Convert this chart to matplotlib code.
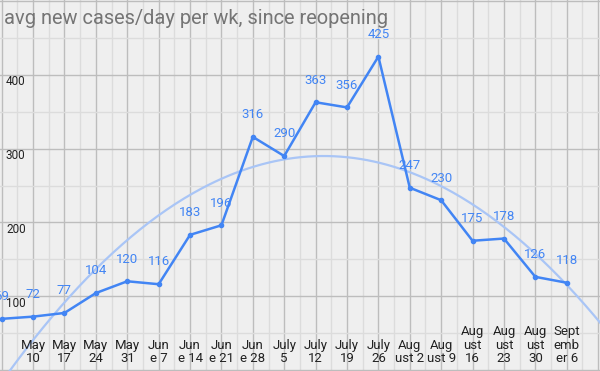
"""avg new cases/day per wk since reopening -- line chart with quadratic trendline."""

import matplotlib
matplotlib.use("Agg")
import matplotlib.pyplot as plt
import numpy as np

# data
WEEK_LABELS = ["May 3", "May\n10", "May\n17", "May\n24", "May\n31", "Jun\ne 7",
               "Jun\ne 14", "Jun\ne 21", "Jun\ne 28", "July\n5", "July\n12",
               "July\n19", "July\n26", "Aug\nust 2", "Aug\nust 9", "Aug\nust\n16",
               "Aug\nust\n23", "Aug\nust\n30", "Sept\nemb\ner 6"]
CASES = [69, 72, 77, 104, 120, 116, 183, 196, 316, 290, 363, 356, 425,
         247, 230, 175, 178, 126, 118]
Y_TICKS = [100, 200, 300, 400]

# style
BG = "#efefef"
LINE = "#4285f4"
TREND = "#a9c5f6"
MAJOR = "#bdbdbd"
MINOR = "#dcdcdc"

plt.rcParams["font.family"] = ["Roboto", "DejaVu Sans"]

x = np.arange(len(CASES))
y = np.array(CASES, dtype=float)

fig = plt.figure(figsize=(6.0, 3.71), dpi=100)
fig.patch.set_facecolor(BG)
ax = fig.add_axes([0, 0, 1, 1])
ax.set_facecolor(BG)

ax.set_xlim(-0.054, 19.06)
ax.set_ylim(-1.8, 501.8)

# grid
for xi in np.arange(0, 20):
    ax.axvline(xi, color=MAJOR, lw=1.0, zorder=0)
    ax.axvline(xi + 0.5, color=MINOR, lw=1.0, zorder=0)
for yi in range(0, 501, 100):
    ax.axhline(yi, color=MAJOR, lw=1.0, zorder=0)
    ax.axhline(yi + 50, color=MINOR, lw=1.0, zorder=0)

# quadratic trendline over full width
coef = np.polyfit(x, y, 2)
xt = np.linspace(-1, 20, 300)
ax.plot(xt, np.polyval(coef, xt), color=TREND, lw=1.6, zorder=2)

# series
ax.plot(x, y, color=LINE, lw=1.8, marker="o", markersize=3, zorder=3)
for xi, v in zip(x, CASES):
    ax.annotate(str(v), (xi, v), textcoords="offset points", xytext=(0, 16),
                ha="center", va="center", fontsize=9.5, color=LINE, zorder=4)

# y labels (inside, below gridline)
for v in Y_TICKS:
    ax.text(0.01, v - 9.5, str(v), transform=ax.get_yaxis_transform(),
            ha="left", va="center", fontsize=8.5, color="#222222")

# x labels (inside, bottom)
xt_tr = ax.get_xaxis_transform()
for xi, lab in zip(x[1:], WEEK_LABELS[1:]):
    ax.text(xi, 0.016, lab, transform=xt_tr, ha="center", va="bottom",
            fontsize=9.5, color="#222222", linespacing=1.05, multialignment="center")

ax.text(4 / 600, 1 - 23.5 / 371, "avg new cases/day per wk, since reopening",
        transform=ax.transAxes, ha="left", va="baseline", fontsize=14.4, color="#757575")

ax.set_xticks([])
ax.set_yticks([])
for s in ax.spines.values():
    s.set_visible(False)

fig.savefig("out.png", dpi=100, facecolor=BG)
